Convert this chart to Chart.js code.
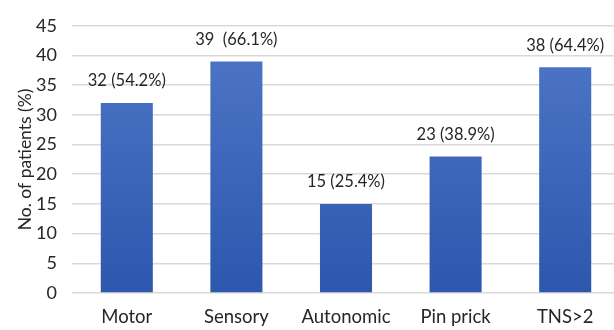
<!DOCTYPE html>
<html>
<head>
<meta charset="utf-8">
<script src="https://cdn.jsdelivr.net/npm/chart.js@4"></script>
<style>
html,body{margin:0;padding:0;background:#fff;overflow:hidden;width:614px;height:330px;}
#wrap{position:absolute;left:0;top:0;width:624px;height:330px;}
</style>
</head>
<body>
<div id="wrap"><canvas id="c" width="624" height="330"></canvas></div>
<script>
const categories = ["Motor", "Sensory", "Autonomic", "Pin prick", "TNS>2"];
const patients = [32, 39, 15, 23, 38];
const valueLabels = ["32 (54.2%)", "39  (66.1%)", "15 (25.4%)", "23 (38.9%)", "38 (64.4%)"];
const yTicks = [0, 5, 10, 15, 20, 25, 30, 35, 40, 45];

const FONT = "Lato, 'Open Sans', sans-serif";

const labelPlugin = {
  id: 'valueLabels',
  afterDatasetsDraw(chart) {
    const ctx = chart.ctx;
    const meta = chart.getDatasetMeta(0);
    ctx.save();
    ctx.font = "16.5px " + FONT;
    ctx.fillStyle = "#262626";
    ctx.textAlign = "center";
    ctx.textBaseline = "middle";
    meta.data.forEach((bar, i) => {
      ctx.fillText(valueLabels[i], bar.x, bar.y - 22);
    });
    ctx.restore();
  }
};

const ctx = document.getElementById('c').getContext('2d');
new Chart(ctx, {
  type: 'bar',
  data: {
    labels: categories,
    datasets: [{
      data: patients,
      backgroundColor: (c) => {
        const area = c.chart.chartArea;
        if (!area) return '#4169b9';
        const g = c.chart.ctx.createLinearGradient(0, area.top, 0, area.bottom);
        g.addColorStop(0, '#4f78c9');
        g.addColorStop(1, '#2d57ad');
        return g;
      },
      borderWidth: 0,
      categoryPercentage: 1,
      barPercentage: 0.475
    }]
  },
  options: {
    responsive: false,
    animation: false,
    events: [],
    layout: { padding: { left: 0, right: 4, top: 15, bottom: 0 } },
    plugins: { legend: { display: false }, tooltip: { enabled: false }, title: { display: false } },
    scales: {
      x: {
        grid: { display: false, drawTicks: false },
        border: { display: false },
        ticks: { font: { family: FONT, size: 18.5 }, color: '#262626', padding: 13 },
        afterFit(s) { s.height = 37; }
      },
      y: {
        min: 0, max: 45,
        afterBuildTicks(s) { s.ticks = yTicks.map(v => ({ value: v })); },
        grid: { color: '#d9d9d9', lineWidth: 1.5, drawTicks: false },
        border: { display: false },
        ticks: { font: { family: FONT, size: 18 }, color: '#262626', padding: 15 },
        title: { display: true, text: 'No. of patients (%)', font: { family: FONT, size: 17.5 }, color: '#262626', padding: { top: 15, bottom: 0 } },
        afterFit(s) { s.width = 72; }
      }
    }
  },
  plugins: [labelPlugin]
});
</script>
</body>
</html>
